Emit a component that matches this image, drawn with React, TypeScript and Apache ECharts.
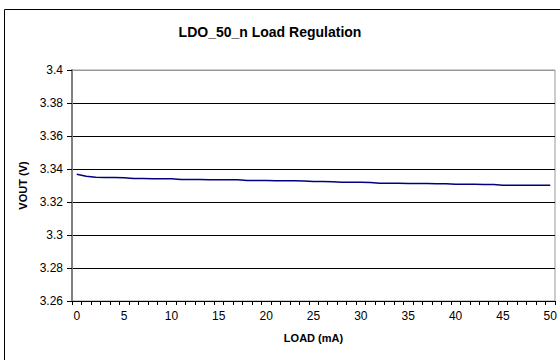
import React, { useEffect, useRef } from "react";
import * as echarts from "echarts";

const loadCategories: string[] = Array.from({ length: 51 }, (_, i) => String(i));

const voutValues: number[] = [
  3.3368, 3.3356, 3.335, 3.3349, 3.3348, 3.3347,
  3.3342, 3.3342, 3.3341, 3.3341, 3.3341,
  3.3336, 3.3336, 3.3336, 3.3335, 3.3335, 3.3335, 3.3335,
  3.333, 3.333, 3.333, 3.3329, 3.3329, 3.3329, 3.3328,
  3.3324, 3.3324, 3.3323,
  3.3319, 3.3319, 3.3319, 3.3318,
  3.3313, 3.3313, 3.3313, 3.3312, 3.3312, 3.3312, 3.3311, 3.3311,
  3.3307, 3.3307, 3.3307, 3.3306, 3.3306,
  3.3302, 3.3302, 3.3302, 3.3302, 3.3302, 3.3302,
];

const titleText = "LDO_50_n Load Regulation";
const xAxisName = "LOAD (mA)";
const yAxisName = "VOUT (V)";

export default function App() {
  const ref = useRef<HTMLDivElement>(null);
  useEffect(() => {
    if (!ref.current) return;
    const chart = echarts.init(ref.current, null, { renderer: "svg" });
    const font = "Liberation Sans, Arial, sans-serif";
    chart.setOption({
      animation: false,
      backgroundColor: "#ffffff",
      textStyle: { fontFamily: font },
      title: {
        text: titleText,
        left: 265,
        textAlign: "center",
        top: 20,
        textStyle: { fontFamily: font, fontSize: 14, fontWeight: "bold", color: "#000" },
      },
      graphic: [
        {
          type: "rect",
          shape: { x: 4.5, y: 9.5, width: 600, height: 400 },
          style: { fill: "none", stroke: "#000", lineWidth: 1 },
          silent: true,
          z: 0,
        },
      ],
      grid: {
        left: 72,
        right: 5,
        top: 70,
        bottom: 59,
        show: true,
        borderColor: "#999",
        borderWidth: 1,
        backgroundColor: "transparent",
      },
      xAxis: {
        type: "category",
        data: loadCategories,
        boundaryGap: true,
        name: xAxisName,
        nameLocation: "middle",
        nameGap: 31,
        nameTextStyle: { fontFamily: font, fontSize: 11, fontWeight: "bold", color: "#000" },
        axisLine: { show: true, lineStyle: { color: "#000", width: 1 } },
        axisTick: { show: true, interval: 0, length: 4, inside: false, alignWithLabel: false, lineStyle: { color: "#000" } },
        axisLabel: { interval: 4, fontFamily: font, fontSize: 12, color: "#000", margin: 9 },
        splitLine: { show: false },
      },
      yAxis: {
        type: "value",
        min: 3.26,
        max: 3.4,
        interval: 0.02,
        name: yAxisName,
        nameLocation: "middle",
        nameGap: 44,
        nameRotate: 90,
        nameTextStyle: { fontFamily: font, fontSize: 11, fontWeight: "bold", color: "#000" },
        axisLine: { show: true, lineStyle: { color: "#808080", width: 2 } },
        axisTick: { show: true, length: 5, lineStyle: { color: "#000" } },
        axisLabel: {
          fontFamily: font,
          fontSize: 12,
          color: "#000",
          margin: 9,
          formatter: (v: number) => String(parseFloat(v.toFixed(2))),
        },
        splitLine: {
          show: true,
          lineStyle: {
            color: ["#000", "#000", "#000", "#000", "#000", "#000", "#000", "#999"],
            width: 1,
          },
        },
      },
      series: [
        {
          type: "line",
          data: voutValues,
          showSymbol: false,
          symbol: "none",
          lineStyle: { color: "#000080", width: 1.5 },
          z: 5,
        },
      ],
    });
    return () => chart.dispose();
  }, []);
  return (
    <div
      ref={ref}
      style={{ position: "fixed", left: 0, top: 0, width: 560, height: 360 }}
    />
  );
}
